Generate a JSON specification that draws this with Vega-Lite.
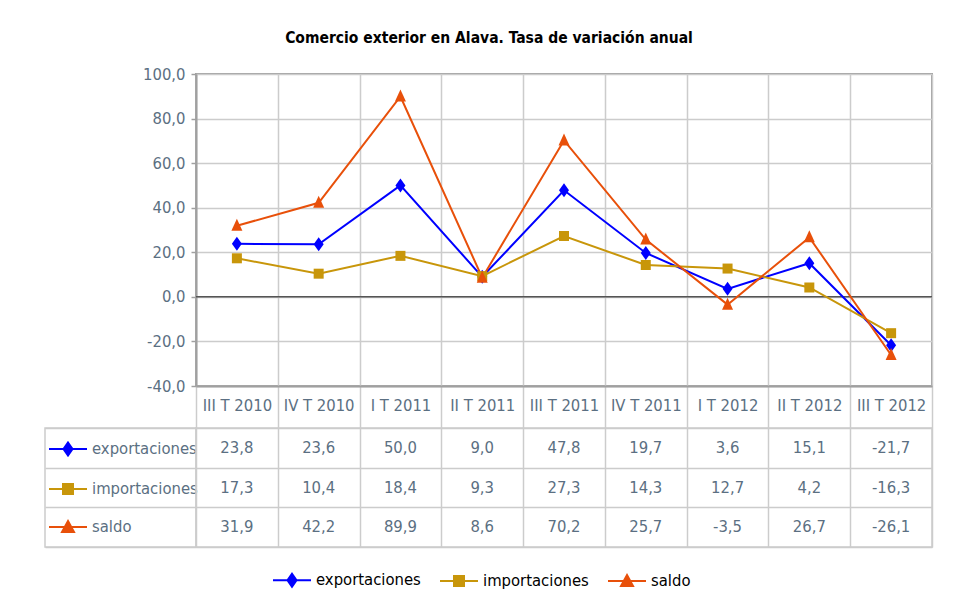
{
  "$schema": "https://vega.github.io/schema/vega-lite/v6.json",
  "background": "white",
  "padding": {"left": 44, "top": 30, "right": 0, "bottom": 0},
  "title": {"text": "Comercio exterior en Alava. Tasa de variación anual", "fontSize": 15.5, "fontWeight": "bold", "color": "#000000", "anchor": "middle", "offset": 19},
  "datasets": {
    "t": [
      {"trimestre": "III T 2010", "serie": "exportaciones", "valor": 23.8},
      {"trimestre": "IV T 2010", "serie": "exportaciones", "valor": 23.6},
      {"trimestre": "I T 2011", "serie": "exportaciones", "valor": 50.0},
      {"trimestre": "II T 2011", "serie": "exportaciones", "valor": 9.0},
      {"trimestre": "III T 2011", "serie": "exportaciones", "valor": 47.8},
      {"trimestre": "IV T 2011", "serie": "exportaciones", "valor": 19.7},
      {"trimestre": "I T 2012", "serie": "exportaciones", "valor": 3.6},
      {"trimestre": "II T 2012", "serie": "exportaciones", "valor": 15.1},
      {"trimestre": "III T 2012", "serie": "exportaciones", "valor": -21.7},
      {"trimestre": "III T 2010", "serie": "importaciones", "valor": 17.3},
      {"trimestre": "IV T 2010", "serie": "importaciones", "valor": 10.4},
      {"trimestre": "I T 2011", "serie": "importaciones", "valor": 18.4},
      {"trimestre": "II T 2011", "serie": "importaciones", "valor": 9.3},
      {"trimestre": "III T 2011", "serie": "importaciones", "valor": 27.3},
      {"trimestre": "IV T 2011", "serie": "importaciones", "valor": 14.3},
      {"trimestre": "I T 2012", "serie": "importaciones", "valor": 12.7},
      {"trimestre": "II T 2012", "serie": "importaciones", "valor": 4.2},
      {"trimestre": "III T 2012", "serie": "importaciones", "valor": -16.3},
      {"trimestre": "III T 2010", "serie": "saldo", "valor": 31.9},
      {"trimestre": "IV T 2010", "serie": "saldo", "valor": 42.2},
      {"trimestre": "I T 2011", "serie": "saldo", "valor": 89.9},
      {"trimestre": "II T 2011", "serie": "saldo", "valor": 8.6},
      {"trimestre": "III T 2011", "serie": "saldo", "valor": 70.2},
      {"trimestre": "IV T 2011", "serie": "saldo", "valor": 25.7},
      {"trimestre": "I T 2012", "serie": "saldo", "valor": -3.5},
      {"trimestre": "II T 2012", "serie": "saldo", "valor": 26.7},
      {"trimestre": "III T 2012", "serie": "saldo", "valor": -26.1}
    ]
  },
  "columns": 2,
  "align": "each",
  "bounds": "flush",
  "spacing": {"row": 42, "column": 0},
  "resolve": {
    "scale": {"color": "independent", "fill": "independent", "stroke": "independent", "shape": "independent"},
    "legend": {"color": "independent", "fill": "independent", "stroke": "independent", "shape": "independent"}
  },
  "concat": [
    {
      "width": 151,
      "height": 312,
      "view": {"stroke": null},
      "data": {"name": "t"},
      "mark": {"type": "point", "filled": true, "opacity": 0},
      "encoding": {
        "fill": {"field": "serie", "type": "nominal", "scale": {"domain": ["exportaciones", "importaciones", "saldo"], "range": ["#0000ff", "#c8960a", "#e8500a"]},
          "legend": {"orient": "none", "legendX": 227, "legendY": 495, "direction": "horizontal", "title": null, "symbolSize": 400, "symbolStrokeWidth": 2, "symbolOpacity": 1, "labelOffset": 22, "columnPadding": 15, "labelFontSize": 16.5, "labelColor": "#000000", "padding": 0}},
        "stroke": {"field": "serie", "type": "nominal", "scale": {"domain": ["exportaciones", "importaciones", "saldo"], "range": ["#0000ff", "#c8960a", "#e8500a"]},
          "legend": {"orient": "none", "legendX": 227, "legendY": 495, "direction": "horizontal", "title": null, "symbolSize": 400, "symbolStrokeWidth": 2, "symbolOpacity": 1, "labelOffset": 22, "columnPadding": 15, "labelFontSize": 16.5, "labelColor": "#000000", "padding": 0}},
        "shape": {"field": "serie", "type": "nominal", "scale": {"domain": ["exportaciones", "importaciones", "saldo"], "range": ["M-1,0H2.8M0.9,-0.65L1.35,0L0.9,0.65L0.45,0Z", "M-1,0H2.8M0.4,-0.5H1.4V0.5H0.4Z", "M-1,0H2.8M0.9,-0.6L1.5,0.5H0.3Z"]},
          "legend": {"orient": "none", "legendX": 227, "legendY": 495, "direction": "horizontal", "title": null, "symbolSize": 400, "symbolStrokeWidth": 2, "symbolOpacity": 1, "labelOffset": 22, "columnPadding": 15, "labelFontSize": 16.5, "labelColor": "#000000", "padding": 0}}
      }
    },
    {
      "width": 736,
      "height": 312,
      "view": {"stroke": "#a0a0a0", "strokeWidth": 2},
      "layer": [
        {
          "data": {"values": [{}]},
          "mark": {"type": "rule", "color": "#555555", "strokeWidth": 1.5},
          "encoding": {"y": {"datum": 0, "type": "quantitative"}}
        },
        {
          "data": {"name": "t"},
          "mark": {"type": "line", "strokeWidth": 2},
          "encoding": {
            "x": {"field": "trimestre", "type": "nominal", "sort": ["III T 2010", "IV T 2010", "I T 2011", "II T 2011", "III T 2011", "IV T 2011", "I T 2012", "II T 2012", "III T 2012"], "scale": {"type": "band", "paddingInner": 0, "paddingOuter": 0},
              "axis": {"title": null, "orient": "bottom", "labelAngle": 0, "tickBand": "extent", "tickSize": 42, "tickColor": "#cccccc", "tickWidth": 1.5, "grid": true, "gridColor": "#cccccc", "gridWidth": 1.5, "domainColor": "#a0a0a0", "domainWidth": 2, "labelFontSize": 16.5, "labelColor": "#5b6f82", "labelPadding": -31}},
            "y": {"field": "valor", "type": "quantitative", "scale": {"domain": [-40, 100], "nice": false, "zero": false},
              "axis": {"title": null, "values": [-40, -20, 0, 20, 40, 60, 80, 100], "format": ".1f", "grid": true, "gridColor": "#cccccc", "gridWidth": 1.5, "tickSize": 5, "tickColor": "#a0a0a0", "tickWidth": 1.5, "domainColor": "#a0a0a0", "domainWidth": 2, "labelFontSize": 16.5, "labelColor": "#5b6f82", "labelPadding": 6}},
            "color": {"field": "serie", "type": "nominal", "scale": {"domain": ["exportaciones", "importaciones", "saldo"], "range": ["#0000ff", "#c8960a", "#e8500a"]}, "legend": null}
          }
        },
        {
          "data": {"name": "t"},
          "mark": {"type": "point", "filled": true, "opacity": 1, "size": 100},
          "encoding": {
            "x": {"field": "trimestre", "type": "nominal", "sort": ["III T 2010", "IV T 2010", "I T 2011", "II T 2011", "III T 2011", "IV T 2011", "I T 2012", "II T 2012", "III T 2012"]},
            "y": {"field": "valor", "type": "quantitative"},
            "color": {"field": "serie", "type": "nominal", "legend": null},
            "shape": {"field": "serie", "type": "nominal", "scale": {"domain": ["exportaciones", "importaciones", "saldo"], "range": ["M0,-1.4L1,0L0,1.4L-1,0Z", "square", "M0,-1.4L1.1,1L-1.1,1Z"]}, "legend": null}
          }
        }
      ]
    },
    {
      "width": 151,
      "height": 119,
      "view": {"stroke": "#cccccc", "strokeWidth": 1.5},
      "data": {"name": "t"},
      "mark": {"type": "point", "filled": true, "opacity": 0},
      "encoding": {
        "y": {"field": "serie", "type": "nominal", "sort": ["exportaciones", "importaciones", "saldo"], "scale": {"type": "band", "paddingInner": 0, "paddingOuter": 0},
          "axis": {"title": null, "labels": false, "ticks": false, "domain": false, "grid": true, "tickBand": "extent", "gridColor": "#cccccc", "gridWidth": 1.5}},
        "fill": {"field": "serie", "type": "nominal", "scale": {"domain": ["exportaciones", "importaciones", "saldo"], "range": ["#0000ff", "#c8960a", "#e8500a"]},
          "legend": {"orient": "none", "legendX": 3, "legendY": 10, "direction": "vertical", "title": null, "symbolSize": 400, "symbolStrokeWidth": 2, "symbolOpacity": 1, "labelOffset": 22, "rowPadding": 18, "labelFontSize": 16.5, "labelColor": "#5b6f82", "padding": 0}},
        "stroke": {"field": "serie", "type": "nominal", "scale": {"domain": ["exportaciones", "importaciones", "saldo"], "range": ["#0000ff", "#c8960a", "#e8500a"]},
          "legend": {"orient": "none", "legendX": 3, "legendY": 10, "direction": "vertical", "title": null, "symbolSize": 400, "symbolStrokeWidth": 2, "symbolOpacity": 1, "labelOffset": 22, "rowPadding": 18, "labelFontSize": 16.5, "labelColor": "#5b6f82", "padding": 0}},
        "shape": {"field": "serie", "type": "nominal", "scale": {"domain": ["exportaciones", "importaciones", "saldo"], "range": ["M-1,0H2.8M0.9,-0.65L1.35,0L0.9,0.65L0.45,0Z", "M-1,0H2.8M0.4,-0.5H1.4V0.5H0.4Z", "M-1,0H2.8M0.9,-0.6L1.5,0.5H0.3Z"]},
          "legend": {"orient": "none", "legendX": 3, "legendY": 10, "direction": "vertical", "title": null, "symbolSize": 400, "symbolStrokeWidth": 2, "symbolOpacity": 1, "labelOffset": 22, "rowPadding": 18, "labelFontSize": 16.5, "labelColor": "#5b6f82", "padding": 0}}
      }
    },
    {
      "width": 736,
      "height": 119,
      "view": {"stroke": "#cccccc", "strokeWidth": 1.5},
      "data": {"name": "t"},
      "mark": {"type": "text", "fontSize": 16.5, "color": "#5b6f82", "align": "center", "baseline": "middle"},
      "encoding": {
        "x": {"field": "trimestre", "type": "nominal", "sort": ["III T 2010", "IV T 2010", "I T 2011", "II T 2011", "III T 2011", "IV T 2011", "I T 2012", "II T 2012", "III T 2012"], "scale": {"type": "band", "paddingInner": 0, "paddingOuter": 0},
          "axis": {"title": null, "labels": false, "ticks": false, "domain": false, "grid": true, "tickBand": "extent", "gridColor": "#cccccc", "gridWidth": 1.5}},
        "y": {"field": "serie", "type": "nominal", "sort": ["exportaciones", "importaciones", "saldo"], "scale": {"type": "band", "paddingInner": 0, "paddingOuter": 0},
          "axis": {"title": null, "labels": false, "ticks": false, "domain": false, "grid": true, "tickBand": "extent", "gridColor": "#cccccc", "gridWidth": 1.5}},
        "text": {"field": "valor", "type": "quantitative", "format": ".1f"}
      }
    }
  ],
  "config": {
    "font": "DejaVu Sans Condensed, Liberation Sans, sans-serif",
    "locale": {"number": {"decimal": ",", "thousands": ".", "grouping": [3], "currency": ["", " €"], "minus": "-"}}
  }
}
